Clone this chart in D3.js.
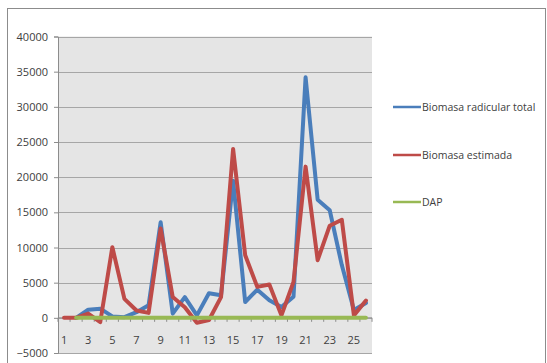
<!DOCTYPE html>
<html><head><meta charset="utf-8">
<script src="https://cdn.jsdelivr.net/npm/d3@7"></script>
<style>body{margin:0;background:#fff}svg{display:block}text{font-family:"Open Sans",sans-serif}</style>
</head><body><svg id="c" width="547" height="363"></svg>
<script>
const categories = d3.range(1, 27);
const biomasaRadicular = [null, 0, 1150, 1300, 200, 100, 800, 1800, 13600, 600, 2950, 350, 3500, 3200, 19500, 2250, 4000, 2500, 1550, 3000, 34200, 16800, 15300, 7500, 1100, 2100];
const biomasaEstimada = [0, 0, 600, -600, 10050, 2700, 1050, 700, 12700, 2950, 1500, -700, -300, 2950, 24000, 8900, 4400, 4750, 350, 5100, 21500, 8200, 13100, 13950, 350, 2450];
const dap = [null, 0, 0, 0, 0, 0, 0, 0, 0, 0, 0, 0, 0, 0, 0, 0, 0, 0, 0, 0, 0, 0, 0, 0, 0, 0];
const yTicks = d3.range(-5000, 40001, 5000);
const seriesNames = ["Biomasa radicular total", "Biomasa estimada", "DAP"];
const colors = ["#4a7ebb", "#be4b48", "#98b954"];

const svg = d3.select("#c");
const L = 58, R = 372, T = 36.5, B = 353;
svg.append("rect").attr("x", 7.5).attr("y", 8.5).attr("width", 538).attr("height", 370)
  .attr("fill", "#fff").attr("stroke", "#8c8c8c").attr("stroke-width", 1);
const x = d3.scaleBand().domain(categories).range([L, R]).padding(0);
const y = d3.scaleLinear().domain([-5000, 40000]).range([B, T]);

svg.append("rect").attr("x", L).attr("y", T).attr("width", R - L).attr("height", B - T).attr("fill", "#e5e5e5");

// gridlines
svg.append("g").selectAll("line").data(yTicks).join("line")
  .attr("x1", L).attr("x2", R).attr("y1", d => Math.round(y(d)) + 0.5).attr("y2", d => Math.round(y(d)) + 0.5)
  .attr("stroke", "#a6a6a6").attr("stroke-width", 1);

// y axis
const yAxis = d3.axisLeft(y).tickValues(yTicks).tickSize(4).tickFormat(d3.format("d"));
const gy = svg.append("g").attr("transform", `translate(${L},0)`).call(yAxis);
gy.select(".domain").attr("stroke", "#8c8c8c");
gy.selectAll(".tick line").attr("stroke", "#8c8c8c");
gy.selectAll("text").attr("fill", "#404040").style("font-size", "11px").attr("x", -10);

// x axis at zero
const y0 = y(0);
const gx = svg.append("g");
gx.append("line").attr("x1", L).attr("x2", R).attr("y1", y0).attr("y2", y0).attr("stroke", "#8c8c8c");
gx.selectAll("line.tk").data(d3.range(0, 27)).join("line").attr("class", "tk")
  .attr("x1", i => L + i * x.bandwidth()).attr("x2", i => L + i * x.bandwidth())
  .attr("y1", y0).attr("y2", y0 + 4).attr("stroke", "#8c8c8c");
gx.selectAll("text").data(categories.filter(d => d % 2 === 1)).join("text")
  .attr("x", d => x(d) + x.bandwidth() / 2).attr("y", 344)
  .attr("text-anchor", "middle").attr("fill", "#404040").style("font-size", "11px").text(d => d);

// lines
const line = d3.line().defined(d => d[1] !== null)
  .x(d => x(d[0]) + x.bandwidth() / 2).y(d => y(d[1]));
[biomasaRadicular, biomasaEstimada, dap].forEach((s, i) => {
  svg.append("path").datum(categories.map((c, j) => [c, s[j]]))
    .attr("d", line).attr("fill", "none").attr("stroke", colors[i])
    .attr("stroke-width", 4).attr("stroke-linejoin", "round").attr("stroke-linecap", "round");
});

// legend
const ly = [107, 155, 202];
seriesNames.forEach((n, i) => {
  svg.append("line").attr("x1", 393).attr("x2", 421).attr("y1", ly[i]).attr("y2", ly[i])
    .attr("stroke", colors[i]).attr("stroke-width", 2.5);
  svg.append("text").attr("x", 422).attr("y", ly[i] + 4).attr("fill", "#404040")
    .style("font-size", "10.5px").text(n);
});
</script></body></html>
